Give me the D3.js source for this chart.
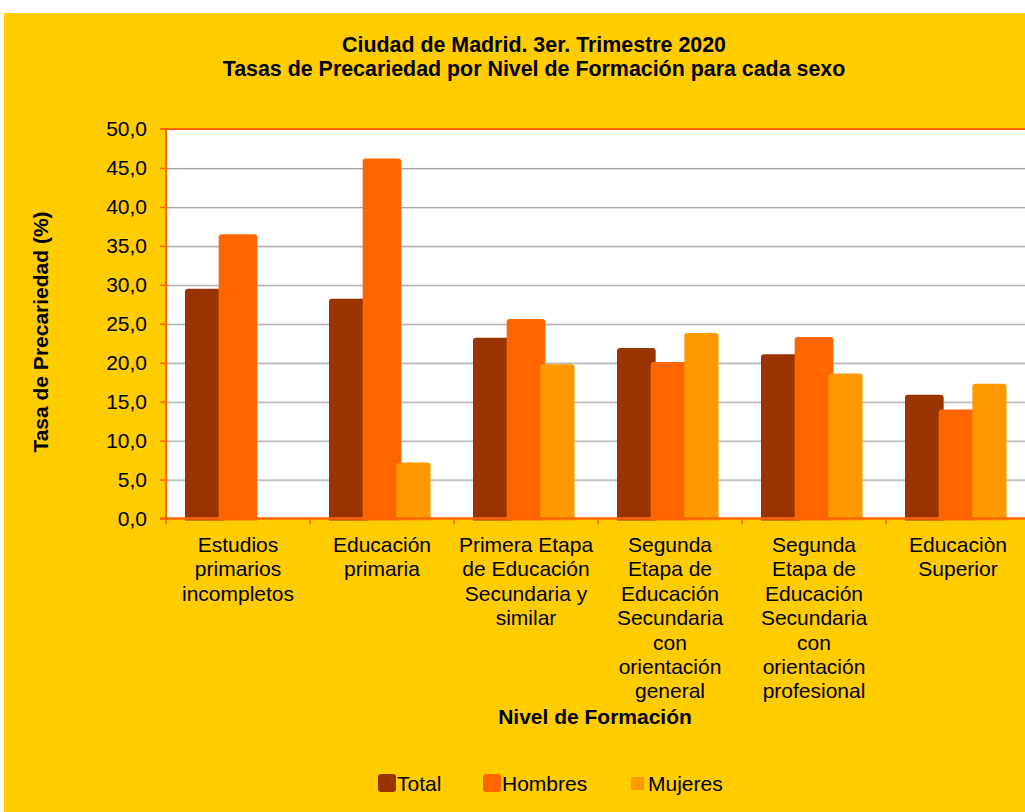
<!DOCTYPE html>
<html>
<head>
<meta charset="utf-8">
<script src="https://cdn.jsdelivr.net/npm/d3@7/dist/d3.min.js"></script>
<style>
  html, body { margin: 0; padding: 0; background: #ffffff; }
  svg { display: block; }
  text { font-family: Arial, "Liberation Sans", sans-serif; fill: #000; }
</style>
</head>
<body>
<svg id="chart" width="1025" height="812"></svg>
<script>
// ---- Data ----
const categories = [
  "Estudios primarios incompletos",
  "Educación primaria",
  "Primera Etapa de Educación Secundaria y similar",
  "Segunda Etapa de Educación Secundaria con orientación general",
  "Segunda Etapa de Educación Secundaria con orientación profesional",
  "Educaciòn Superior"
];
const categoryLines = [
  ["Estudios", "primarios", "incompletos"],
  ["Educación", "primaria"],
  ["Primera Etapa", "de Educación", "Secundaria y", "similar"],
  ["Segunda", "Etapa de", "Educación", "Secundaria", "con", "orientación", "general"],
  ["Segunda", "Etapa de", "Educación", "Secundaria", "con", "orientación", "profesional"],
  ["Educaciòn", "Superior"]
];
const seriesNames = ["Total", "Hombres", "Mujeres"];
const totalValues   = [29.5, 28.2, 23.2, 21.9, 21.1, 15.9];
const hombresValues = [36.5, 46.2, 25.6, 20.1, 23.3, 14.0];
const mujeresValues = [null, 7.2, 19.8, 23.8, 18.6, 17.3];
const yTicks = [0, 5, 10, 15, 20, 25, 30, 35, 40, 45, 50];
const titleLines = ["Ciudad de Madrid. 3er. Trimestre 2020",
                    "Tasas de Precariedad por Nivel de Formación para cada sexo"];
const yTitle = "Tasa de Precariedad (%)";
const xTitle = "Nivel de Formación";

const seriesValues = [totalValues, hombresValues, mujeresValues];
const colors = { "Total": "#993300", "Hombres": "#FF6600", "Mujeres": "#FF9900" };

// ---- Layout ----
const svg = d3.select("#chart");
const W = 1025, H = 812;
const plot = { left: 166, right: 1030, top: 129, bottom: 518.5 };
const FS = 21;

// background
svg.append("rect").attr("x", 4).attr("y", 13).attr("width", W - 4).attr("height", H - 13)
  .attr("fill", "#FFCC00");

// scales
const x = d3.scaleBand().domain(categories).range([plot.left, plot.right]).padding(0);
const xInner = d3.scaleBand().domain(seriesNames).range([19, 120]).padding(0);
const y = d3.scaleLinear().domain([0, 50]).range([plot.bottom, plot.top]);

// plot area
svg.append("rect").attr("x", plot.left).attr("y", plot.top)
  .attr("width", plot.right - plot.left).attr("height", plot.bottom - plot.top)
  .attr("fill", "#ffffff");

// gridlines
const grid = svg.append("g");
yTicks.filter(t => t > 0 && t < 50).forEach(t => {
  grid.append("line").attr("x1", plot.left).attr("x2", plot.right)
    .attr("y1", y(t) + 1.5).attr("y2", y(t) + 1.5)
    .attr("stroke", "#dedede").attr("stroke-width", 1);
  grid.append("line").attr("x1", plot.left).attr("x2", plot.right)
    .attr("y1", y(t) + 0.5).attr("y2", y(t) + 0.5)
    .attr("stroke", "#9f9f9f").attr("stroke-width", 1);
});

// top border
svg.append("line").attr("x1", plot.left - 6).attr("x2", plot.right)
  .attr("y1", plot.top).attr("y2", plot.top)
  .attr("stroke", "#FF6600").attr("stroke-width", 2);

// bars with rounded top corners (slight overlap like the original)
function barPath(x0, w, yTop, yBot) {
  const r = Math.min(3, (yBot - yTop) / 2);
  return `M${x0},${yBot}V${yTop + r}Q${x0},${yTop} ${x0 + r},${yTop}H${x0 + w - r}Q${x0 + w},${yTop} ${x0 + w},${yTop + r}V${yBot}Z`;
}
const barsG = svg.append("g");
seriesNames.forEach((s, si) => {
  const vals = seriesValues[si];
  const extra = si < seriesNames.length - 1 ? 5 : 0.5;
  barsG.selectAll(null)
    .data(categories.map((c, i) => ({ c, v: vals[i] })).filter(d => d.v != null))
    .enter().append("path")
    .attr("d", d => barPath(x(d.c) + xInner(s), xInner.bandwidth() + extra, y(d.v), plot.bottom + 2))
    .attr("fill", colors[s]);
});

// y axis
const yAxis = d3.axisLeft(y).tickValues(yTicks)
  .tickFormat(d => d3.format(".1f")(d).replace(".", ","))
  .tickSize(6).tickPadding(13);
const yAxisG = svg.append("g").attr("transform", `translate(${plot.left},0)`).call(yAxis);
yAxisG.select(".domain").attr("stroke", "#FF6600").attr("stroke-width", 2)
  .attr("d", `M0,${plot.top}V${plot.bottom}`);
yAxisG.selectAll(".tick line").attr("stroke", "#FF6600").attr("stroke-width", 1.5);
yAxisG.selectAll(".tick text").attr("font-size", FS).attr("font-family", 'Arial, "Liberation Sans", sans-serif')
  .attr("fill", "#000");

// x axis line
svg.append("line").attr("x1", plot.left - 6).attr("x2", plot.right)
  .attr("y1", plot.bottom).attr("y2", plot.bottom)
  .attr("stroke", "#FF6600").attr("stroke-width", 2.5);
// x ticks at band boundaries
const xTickPositions = categories.map(c => x(c)).concat([x(categories[categories.length - 1]) + x.bandwidth()]);
svg.append("g").selectAll("line").data(xTickPositions).enter().append("line")
  .attr("x1", d => d).attr("x2", d => d)
  .attr("y1", plot.bottom).attr("y2", plot.bottom + 6)
  .attr("stroke", "#FF6600").attr("stroke-width", 1.5);

// x labels
const lineH = 24.4;
const labG = svg.append("g");
categories.forEach((c, i) => {
  const t = labG.append("text")
    .attr("x", x(c) + x.bandwidth() / 2)
    .attr("y", 552)
    .attr("text-anchor", "middle")
    .attr("font-size", FS);
  categoryLines[i].forEach((ln, j) => {
    t.append("tspan").attr("x", x(c) + x.bandwidth() / 2).attr("y", 552 + j * lineH).text(ln);
  });
});

// titles
svg.append("text").attr("x", 534).attr("y", 52).attr("text-anchor", "middle")
  .attr("font-size", 21.4).attr("font-weight", "bold").text(titleLines[0]);
svg.append("text").attr("x", 534).attr("y", 75.5).attr("text-anchor", "middle")
  .attr("font-size", 21.4).attr("font-weight", "bold").text(titleLines[1]);

// axis titles
svg.append("text").attr("transform", "translate(48,332) rotate(-90)")
  .attr("text-anchor", "middle").attr("font-size", FS).attr("font-weight", "bold").text(yTitle);
svg.append("text").attr("x", 595).attr("y", 724).attr("text-anchor", "middle")
  .attr("font-size", FS).attr("font-weight", "bold").text(xTitle);

// legend
const legendItems = [
  { name: "Total", sx: 378, sy: 774, sz: 18, tx: 397 },
  { name: "Hombres", sx: 483, sy: 774, sz: 18, tx: 502 },
  { name: "Mujeres", sx: 631, sy: 777, sz: 13, tx: 648 }
];
const legG = svg.append("g");
legendItems.forEach(it => {
  legG.append("rect").attr("x", it.sx).attr("y", it.sy).attr("width", it.sz).attr("height", it.sz)
    .attr("rx", it.sz > 15 ? 3 : 1).attr("fill", colors[it.name]);
  legG.append("text").attr("x", it.tx).attr("y", 791).attr("font-size", FS).text(it.name);
});
</script>
</body>
</html>
